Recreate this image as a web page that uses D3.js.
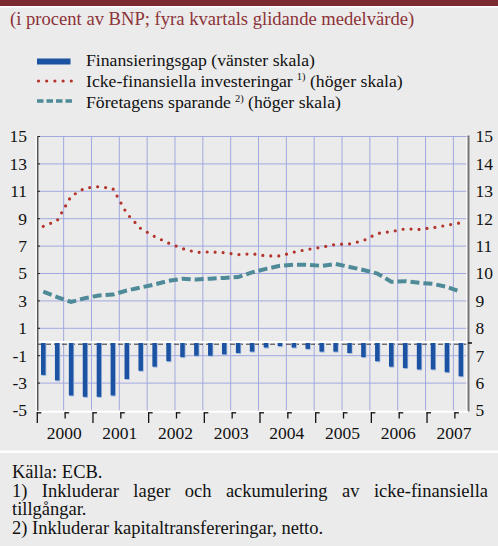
<!DOCTYPE html>
<html>
<head>
<meta charset="utf-8">
<script src="https://cdn.jsdelivr.net/npm/d3@7"></script>
<style>
  body { margin: 0; background: #ebebeb; }
  #chart { position: relative; width: 498px; height: 546px; overflow: hidden; font-family: "Liberation Serif", "Times New Roman", serif; }
  #footer { position: absolute; left: 12px; top: 463px; width: 476px; font-size: 18.5px; line-height: 18.6px; color: #111; }
  #footer p { margin: 0; text-align: justify; }
</style>
</head>
<body>
<div id="chart">
  <div id="footer">
    <p>Källa: ECB.</p>
    <p>1) Inkluderar lager och ackumulering av icke-finansiella tillgångar.</p>
    <p>2) Inkluderar kapitaltransfereringar, netto.</p>
  </div>
</div>
<script>
// Data (quarterly, 2000Q1 - 2007Q3)
const quarters = [
    '2000Q1', '2000Q2', '2000Q3', '2000Q4', '2001Q1', '2001Q2', '2001Q3', '2001Q4',
    '2002Q1', '2002Q2', '2002Q3', '2002Q4', '2003Q1', '2003Q2', '2003Q3', '2003Q4',
    '2004Q1', '2004Q2', '2004Q3', '2004Q4', '2005Q1', '2005Q2', '2005Q3', '2005Q4',
    '2006Q1', '2006Q2', '2006Q3', '2006Q4', '2007Q1', '2007Q2', '2007Q3'
];
const years = ['2000', '2001', '2002', '2003', '2004', '2005', '2006', '2007'];

// Finansieringsgap (left scale)
const financingGap = [
    -2.4, -2.8, -3.9, -4.0, -4.0, -3.9, -2.7, -2.1,
    -1.8, -1.4, -1.1, -1.0, -1.0, -0.9, -0.8, -0.7,
    -0.4, -0.3, -0.4, -0.5, -0.7, -0.7, -0.8, -1.1,
    -1.4, -1.8, -1.9, -2.0, -2.0, -2.2, -2.5
];
// Icke-finansiella investeringar (right scale)
const investment = [
    11.72, 11.93, 12.82, 13.12, 13.17, 13.10, 12.19, 11.64,
    11.35, 11.11, 10.91, 10.77, 10.79, 10.76, 10.69, 10.72,
    10.64, 10.64, 10.78, 10.88, 10.96, 11.06, 11.08, 11.20,
    11.46, 11.53, 11.63, 11.61, 11.67, 11.76, 11.85
];
// Företagens sparande (right scale)
const savings = [
    9.34, 9.14, 8.96, 9.10, 9.20, 9.23, 9.38, 9.49,
    9.60, 9.73, 9.81, 9.78, 9.81, 9.84, 9.87, 10.04,
    10.17, 10.28, 10.32, 10.32, 10.28, 10.35, 10.24, 10.13,
    10.00, 9.70, 9.72, 9.66, 9.62, 9.51, 9.33
];

const leftTicks = [-5, -3, -1, 1, 3, 5, 7, 9, 11, 13, 15];
const rightTicks = [5, 6, 7, 8, 9, 10, 11, 12, 13, 14, 15];

const title = '(i procent av BNP; fyra kvartals glidande medelvärde)';
const legendItems = [
    { label: 'Finansieringsgap (vänster skala)', note: '', after: '' },
    { label: 'Icke-finansiella investeringar', note: '1)', after: ' (höger skala)' },
    { label: 'Företagens sparande', note: '2)', after: ' (höger skala)' }
];

// Colours
const barColor = '#1b53a2';
const barShade = '#9fb8dd';
const invColor = '#b3342c';
const savColor = '#4e8a98';
const gridColor = '#a1a9df';
const titleColor = '#8c3338';

// Layout
const W = 498, H = 546;
const plot = { left: 36.3, right: 467.8, top: 136.5, bottom: 410.5 };

const svg = d3.select('#chart')
    .insert('svg', '#footer')
    .attr('width', W)
    .attr('height', H)
    .style('position', 'absolute')
    .style('left', 0)
    .style('top', 0);

// Header band
svg.append('rect').attr('x', 0).attr('y', 0).attr('width', W).attr('height', 6).attr('fill', '#7b2a2f');
svg.append('rect').attr('x', 0).attr('y', 6).attr('width', W).attr('height', 1.5).attr('fill', '#ffffff');

svg.append('text')
    .attr('x', 10)
    .attr('y', 25)
    .attr('fill', titleColor)
    .style('font-size', '18.6px')
    .text(title);

// Footer separator
svg.append('rect').attr('x', 0).attr('y', 450.5).attr('width', W).attr('height', 2.5).attr('fill', '#ffffff');

// Scales
const x = d3.scaleBand()
    .domain(quarters)
    .range([plot.left, plot.right])
    .padding(0);
const step = x.step();
const xc = q => x(q) + step / 2;

const yL = d3.scaleLinear().domain([-5, 15]).range([plot.bottom, plot.top]);
const yR = d3.scaleLinear().domain([5, 15]).range([plot.bottom, plot.top]);

// Horizontal grid
svg.append('g')
    .selectAll('line')
    .data(leftTicks.filter(d => d > -5))
    .join('line')
    .attr('x1', 37.5)
    .attr('x2', 468)
    .attr('y1', d => yL(d))
    .attr('y2', d => yL(d))
    .attr('stroke', gridColor)
    .attr('stroke-width', 1);

// Vertical grid (half-year boundaries)
const halfYears = quarters.filter((q, i) => i > 0 && (q.endsWith('Q1') || q.endsWith('Q3')));
svg.append('g')
    .selectAll('line')
    .data(halfYears)
    .join('line')
    .attr('x1', d => x(d) - 0.5)
    .attr('x2', d => x(d) - 0.5)
    .attr('y1', plot.top)
    .attr('y2', plot.bottom)
    .attr('stroke', gridColor)
    .attr('stroke-width', 1);

// Dashed line under zero
svg.append('line')
    .attr('x1', 38)
    .attr('x2', 468)
    .attr('y1', yL(0) + 2.2)
    .attr('y2', yL(0) + 2.2)
    .attr('stroke', '#333')
    .attr('stroke-width', 1)
    .attr('stroke-dasharray', '5 3');

// Bars
const barW = 4.5;
const bars = svg.append('g');
bars.selectAll('rect.shade')
    .data(quarters)
    .join('rect')
    .attr('class', 'shade')
    .attr('x', d => xc(d) - barW / 2 + 0.8)
    .attr('y', yL(0))
    .attr('width', barW)
    .attr('height', (d, i) => yL(financingGap[i]) - yL(0) + 1)
    .attr('fill', barShade);
bars.selectAll('rect.bar')
    .data(quarters)
    .join('rect')
    .attr('class', 'bar')
    .attr('x', d => xc(d) - barW / 2)
    .attr('y', yL(0))
    .attr('width', barW)
    .attr('height', (d, i) => yL(financingGap[i]) - yL(0))
    .attr('fill', barColor);

// Zero line (white)
svg.append('line')
    .attr('x1', 38)
    .attr('x2', 468)
    .attr('y1', yL(0))
    .attr('y2', yL(0))
    .attr('stroke', '#ffffff')
    .attr('stroke-width', 2);

// Lines
const invLine = d3.line()
    .x((d, i) => xc(quarters[i]))
    .y(d => yR(d));

svg.append('path')
    .datum(investment)
    .attr('fill', 'none')
    .attr('stroke', invColor)
    .attr('stroke-width', 3.2)
    .attr('stroke-linecap', 'round')
    .attr('stroke-dasharray', '0 8')
    .attr('d', invLine);

svg.append('path')
    .datum(savings)
    .attr('fill', 'none')
    .attr('stroke', savColor)
    .attr('stroke-width', 4)
    .attr('stroke-dasharray', '9 4')
    .attr('d', invLine);

// Left axis
svg.append('line')
    .attr('x1', 36.2).attr('x2', 36.2)
    .attr('y1', plot.top).attr('y2', plot.bottom + 1)
    .attr('stroke', '#ffffff').attr('stroke-width', 1.5);
svg.append('line')
    .attr('x1', 37.7).attr('x2', 37.7)
    .attr('y1', plot.top).attr('y2', plot.bottom + 1)
    .attr('stroke', '#555').attr('stroke-width', 1.5);
svg.append('g')
    .selectAll('line')
    .data(leftTicks.filter(d => d > -5))
    .join('line')
    .attr('x1', 37.7).attr('x2', 40)
    .attr('y1', d => yL(d)).attr('y2', d => yL(d))
    .attr('stroke', '#222').attr('stroke-width', 1);

svg.append('g')
    .selectAll('text')
    .data(leftTicks)
    .join('text')
    .attr('x', 27)
    .attr('y', d => yL(d) + 5.8)
    .attr('text-anchor', 'end')
    .attr('fill', '#111')
    .style('font-size', '17.5px')
    .text(d => d);

// Right axis
svg.append('line')
    .attr('x1', 466.8).attr('x2', 466.8)
    .attr('y1', plot.top).attr('y2', plot.bottom + 1)
    .attr('stroke', '#ffffff').attr('stroke-width', 1.2);
svg.append('line')
    .attr('x1', 468.5).attr('x2', 468.5)
    .attr('y1', plot.top - 1).attr('y2', plot.bottom + 1)
    .attr('stroke', '#777').attr('stroke-width', 2);
svg.append('line')
    .attr('x1', 468).attr('x2', 472)
    .attr('y1', yL(0) + 1).attr('y2', yL(0) + 1)
    .attr('stroke', '#111').attr('stroke-width', 1.5);

svg.append('g')
    .selectAll('text')
    .data(rightTicks)
    .join('text')
    .attr('x', 475.5)
    .attr('y', d => yR(d) + 5.8)
    .attr('fill', '#111')
    .style('font-size', '17.5px')
    .text(d => d);

// X axis: white base line, bracket ticks and year labels
svg.append('line')
    .attr('x1', 36).attr('x2', 468)
    .attr('y1', plot.bottom + 1.2).attr('y2', plot.bottom + 1.2)
    .attr('stroke', '#ffffff').attr('stroke-width', 2);

const tickQs = quarters.filter(q => q.endsWith('Q1') || q.endsWith('Q3'));
const ticks = svg.append('g');
ticks.selectAll('line.v')
    .data(tickQs)
    .join('line')
    .attr('class', 'v')
    .attr('x1', d => x(d) + 1).attr('x2', d => x(d) + 1)
    .attr('y1', plot.bottom + 2)
    .attr('y2', d => plot.bottom + (d.endsWith('Q1') ? 12.5 : 8))
    .attr('stroke', '#111').attr('stroke-width', 1.3);
ticks.selectAll('line.h')
    .data(tickQs)
    .join('line')
    .attr('class', 'h')
    .attr('x1', d => x(d) + 0.4).attr('x2', d => x(d) + 5)
    .attr('y1', plot.bottom + 2.3).attr('y2', plot.bottom + 2.3)
    .attr('stroke', '#111').attr('stroke-width', 1.3);

svg.append('g')
    .selectAll('text')
    .data(years)
    .join('text')
    .attr('x', d => x(d + 'Q1') + 2 * step)
    .attr('y', 438.5)
    .attr('text-anchor', 'middle')
    .attr('fill', '#111')
    .style('font-size', '17.5px')
    .text(d => d);

// Legend
const legend = svg.append('g');
const legendY = [61.5, 81, 101];
const legendBase = [65.5, 86.5, 108];

legend.append('rect')
    .attr('x', 37).attr('y', legendY[0] - 3)
    .attr('width', 33.5).attr('height', 6)
    .attr('fill', barColor);
legend.append('line')
    .attr('x1', 38.5).attr('x2', 72)
    .attr('y1', legendY[1]).attr('y2', legendY[1])
    .attr('stroke', invColor).attr('stroke-width', 3.2)
    .attr('stroke-linecap', 'round').attr('stroke-dasharray', '0 8.2');
legend.append('line')
    .attr('x1', 37).attr('x2', 72)
    .attr('y1', legendY[2]).attr('y2', legendY[2])
    .attr('stroke', savColor).attr('stroke-width', 3.6)
    .attr('stroke-dasharray', '6.5 3');

legendItems.forEach((item, i) => {
    const t = legend.append('text')
        .attr('x', 86)
        .attr('y', legendBase[i])
        .attr('fill', '#111')
        .style('font-size', '17.7px');
    t.append('tspan').text(item.label);
    if (item.note) {
        t.append('tspan')
            .attr('dx', 4)
            .attr('dy', -6.5)
            .style('font-size', '10.5px')
            .text(item.note);
        t.append('tspan')
            .attr('dy', 6.5)
            .text(item.after);
    }
});
</script>
</body>
</html>
